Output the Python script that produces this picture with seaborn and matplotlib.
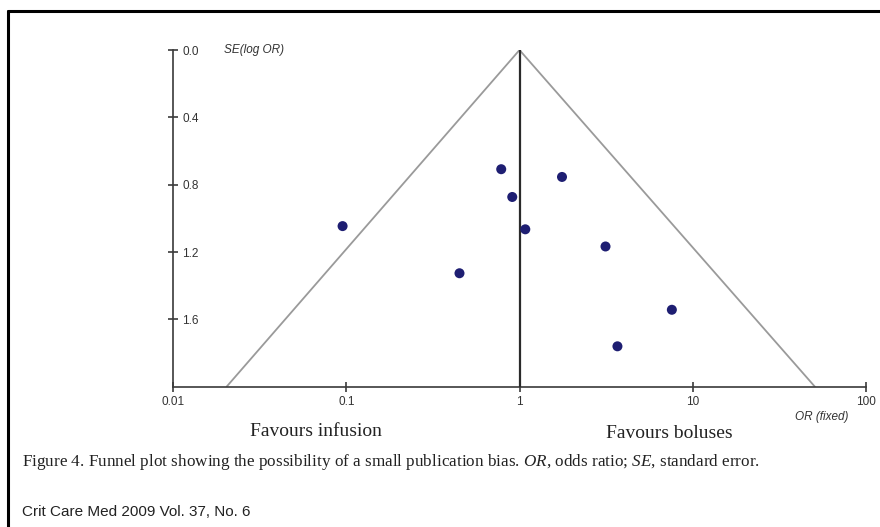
import matplotlib
matplotlib.use("Agg")
import matplotlib.pyplot as plt
from matplotlib.lines import Line2D
import seaborn as sns
import pandas as pd

# study estimates
odds_ratio = [0.784, 1.76, 0.908, 0.095, 1.08, 3.14, 0.45, 7.59, 3.68]
se_log_or = [0.708, 0.754, 0.873, 1.046, 1.065, 1.167, 1.326, 1.543, 1.760]

# pseudo 95% confidence funnel (bottom-left, apex, bottom-right)
funnel_or = [0.0203, 1.0, 50.9]
funnel_se = [2.0, 0.0, 2.0]

x_ticks = [0.01, 0.1, 1, 10, 100]
x_labels = ["0.01", "0.1", "1", "10", "100"]
y_ticks = [0.0, 0.4, 0.8, 1.2, 1.6]
y_labels = ["0.0", "0.4", "0.8", "1.2", "1.6"]

df = pd.DataFrame({"OR": odds_ratio, "SE": se_log_or})
funnel = pd.DataFrame({"OR": funnel_or, "SE": funnel_se})

sns.set_style("white")
plt.rcParams["font.family"] = ["Liberation Sans", "DejaVu Sans"]
plt.rcParams["mathtext.fontset"] = "custom"
plt.rcParams["mathtext.it"] = "Liberation Serif:italic"
plt.rcParams["mathtext.rm"] = "Liberation Serif"

fig = plt.figure(figsize=(8.8, 5.27), dpi=100)
ax = fig.add_axes([0.197, 0.2662, 0.7867, 0.6389])

sns.lineplot(data=funnel, x="OR", y="SE", sort=False, color="#9a9a9a",
             linewidth=1.3, ax=ax, zorder=2)
ax.axvline(1, color="#2a2a2a", linewidth=1.6, zorder=3)
sns.scatterplot(data=df, x="OR", y="SE", color="#1e1e72", s=52,
                edgecolor="none", ax=ax, zorder=4)

ax.set_xscale("log")
ax.set_xlim(0.01, 100)
ax.set_ylim(2.0, 0.0)
ax.set_xticks(x_ticks)
ax.set_xticklabels(x_labels)
ax.set_yticks(y_ticks)
ax.set_yticklabels(y_labels)
ax.minorticks_off()
ax.set_xlabel("")
ax.set_ylabel("")

for side in ["top", "right"]:
    ax.spines[side].set_visible(False)
for side in ["left", "bottom"]:
    ax.spines[side].set_color("#3a3a3a")
    ax.spines[side].set_linewidth(1.2)

ax.tick_params(axis="both", direction="inout", length=7, width=1.1,
               color="#2a2a2a", labelsize=8.5, labelcolor="#333333",
               bottom=True, left=True)
ax.tick_params(axis="x", pad=3)
ax.tick_params(axis="y", pad=-10)
for lab in ax.get_yticklabels():
    lab.set_horizontalalignment("left")

ax.text(0.073, 1.0, "SE(log OR)", transform=ax.transAxes, fontsize=8.5,
        style="italic", color="#333333", ha="left", va="center")
ax.text(0.937, -0.09, "OR (fixed)", transform=ax.transAxes, fontsize=8.5,
        style="italic", color="#333333", ha="center", va="center")

# text below the chart
serif = ["Liberation Serif", "DejaVu Serif"]
fig.text(316 / 880, 1 - 432 / 527, "Favours infusion", family=serif,
         fontsize=14, ha="center", va="center", color="#222222")
fig.text(669 / 880, 1 - 433 / 527, "Favours boluses", family=serif,
         fontsize=14, ha="center", va="center", color="#222222")
fig.text(22 / 880, 1 - 462 / 527,
         "Figure 4. Funnel plot showing the possibility of a small publication bias. "
         "$\\it{OR}$, odds ratio; $\\it{SE}$, standard error.",
         family=serif, fontsize=12.3, ha="left", va="center", color="#222222")
fig.text(22 / 880, 1 - 512 / 527, "Crit Care Med 2009 Vol. 37, No. 6",
         family=["Liberation Sans Narrow", "Liberation Sans"], fontsize=11,
         ha="left", va="center", color="#222222")

# page frame
fig.add_artist(Line2D([8 / 880, 1.0], [1 - 11 / 527, 1 - 11 / 527],
                      transform=fig.transFigure, color="black", linewidth=2.2))
fig.add_artist(Line2D([8 / 880, 8 / 880], [1 - 11 / 527, 0.0],
                      transform=fig.transFigure, color="black", linewidth=2.2))

fig.savefig("out.png", dpi=100)
